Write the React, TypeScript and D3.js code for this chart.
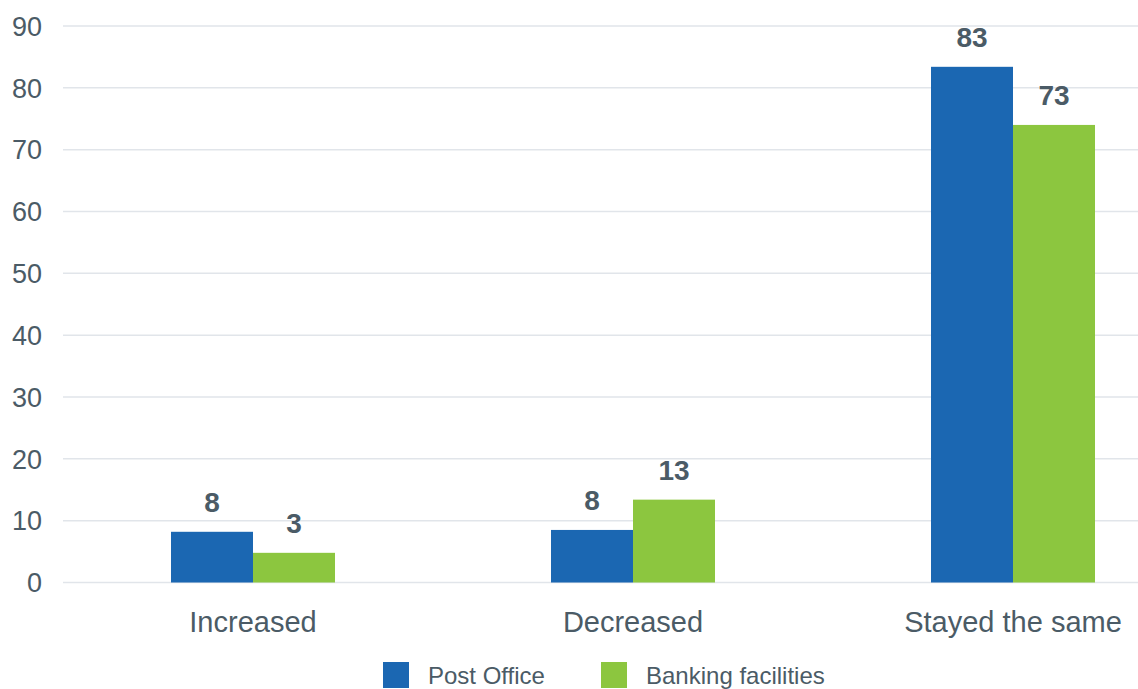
import React from "react";
import * as d3 from "d3";

const categories = ["Increased", "Decreased", "Stayed the same"];
const seriesNames = ["Post Office", "Banking facilities"];
const postOffice = [8.2, 8.5, 83.4];
const banking = [4.8, 13.4, 74.0];
const postOfficeLabels = ["8", "8", "83"];
const bankingLabels = ["3", "13", "73"];
const yTicks = [0, 10, 20, 30, 40, 50, 60, 70, 80, 90];
const colors = ["#1b67b2", "#8cc63f"];

const W = 1138;
const H = 689;
const TEXT = "#4b5b66";
const FONT = "'Liberation Sans', Arial, Helvetica, sans-serif";

export default function App() {
  const y = d3.scaleLinear().domain([0, 90]).range([582.5, 26]);
  const x0 = d3.scaleBand().domain(categories).range([63, 1203]).paddingInner(0.5684).paddingOuter(0.2842);
  const x1 = d3.scaleBand().domain(seriesNames).range([0, x0.bandwidth()]);
  const series = [
    { name: seriesNames[0], values: postOffice, labels: postOfficeLabels, color: colors[0] },
    { name: seriesNames[1], values: banking, labels: bankingLabels, color: colors[1] },
  ];
  const legendX = [383, 601];
  return (
    <svg width={W} height={H} style={{ position: "absolute", left: 0, top: 0 }} fontFamily={FONT}>
      <rect width={W} height={H} fill="#fff" />
      {yTicks.map((t) => (
        <g key={t}>
          <line x1={63} x2={W} y1={y(t)} y2={y(t)} stroke="#e1e5ea" strokeWidth={1.5} />
          <text x={42} y={y(t)} dy="0.36em" textAnchor="end" fontSize={27} fill={TEXT}>
            {t}
          </text>
        </g>
      ))}
      {series.map((s) => (
        <g key={s.name}>
          {categories.map((c, i) => {
            const bx = (x0(c) as number) + (x1(s.name) as number);
            const bw = x1.bandwidth();
            return (
              <g key={c}>
                <rect x={bx} y={y(s.values[i])} width={bw} height={y(0) - y(s.values[i])} fill={s.color} />
                <text x={bx + bw / 2} y={y(s.values[i]) - 20} textAnchor="middle" fontSize={28} fontWeight="bold" fill={TEXT}>
                  {s.labels[i]}
                </text>
              </g>
            );
          })}
        </g>
      ))}
      {categories.map((c) => (
        <text key={c} x={(x0(c) as number) + x0.bandwidth() / 2} y={632} textAnchor="middle" fontSize={29} fill={TEXT}>
          {c}
        </text>
      ))}
      {series.map((s, i) => (
        <g key={s.name}>
          <rect x={legendX[i]} y={662} width={26} height={26} fill={s.color} />
          <text x={legendX[i] + 45} y={684} fontSize={24} fill={TEXT}>
            {s.name}
          </text>
        </g>
      ))}
    </svg>
  );
}
